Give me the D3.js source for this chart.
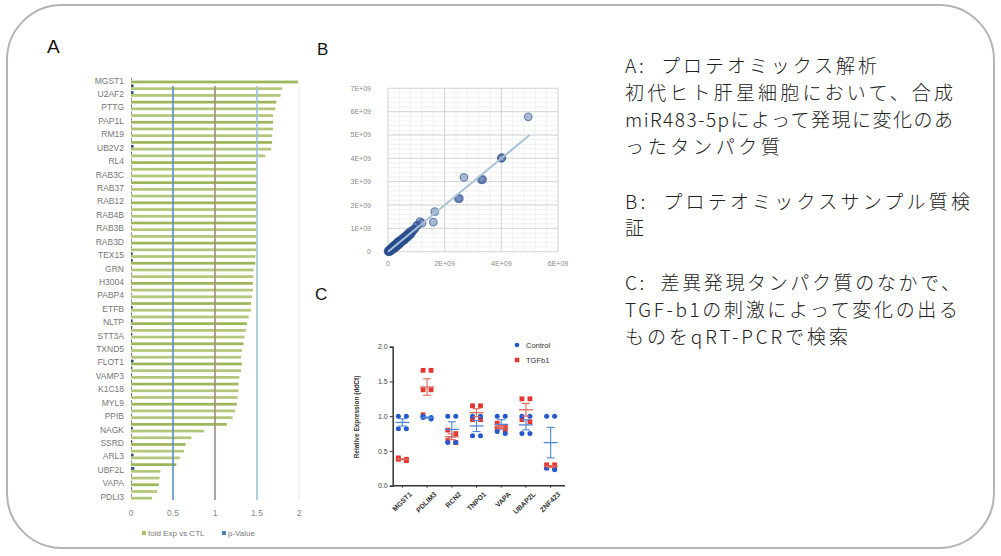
<!DOCTYPE html>
<html>
<head>
<meta charset="utf-8">
<script src="https://cdn.jsdelivr.net/npm/d3@7"></script>
<style>
  body { margin: 0; background: #fff; }
  svg { display: block; }
</style>
</head>
<body>
<svg id="chart" width="1001" height="556"></svg>
<script>
// ---------- A: proteomics bar chart ----------
const geneLabels = ['MGST1','U2AF2','PTTG','PAP1L','RM19','UB2V2','RL4','RAB3C','RAB37','RAB12',
  'RAB4B','RAB3B','RAB3D','TEX15','GRN','H3004','PABP4','ETFB','NLTP','STT3A','TXND5','FLOT1',
  'VAMP3','K1C18','MYL9','PPIB','NAGK','SSRD','ARL3','UBF2L','VAPA','PDLI3'];
const foldExp = [
  1.99,1.80,1.78,1.73,1.72,1.69,1.69,1.69,1.68,1.68,1.67,1.60,1.50,1.50,
  1.50,1.50,1.50,1.50,1.50,1.50,1.50,1.49,1.49,1.49,1.49,1.49,1.48,1.48,
  1.46,1.46,1.45,1.45,1.44,1.43,1.43,1.40,1.38,1.37,1.35,1.34,1.32,1.31,
  1.32,1.31,1.29,1.28,1.28,1.27,1.26,1.24,1.21,1.14,0.87,0.72,0.65,0.63,
  0.58,0.54,0.35,0.34,0.33,0.31,0.25];
const pValue = [
  0.004,0.03,0.03,0.006,0.01,0.006,0.008,0.008,0.008,0.008,0.03,0.01,0.006,0.006,
  0.006,0.006,0.006,0.006,0.006,0.006,0.006,0.006,0.006,0.006,0.006,0.006,0.02,0.02,
  0.006,0.006,0.006,0.006,0.006,0.008,0.02,0.01,0.02,0.015,0.015,0.01,0.01,0.01,
  0.03,0.015,0.01,0.01,0.008,0.01,0.008,0.008,0.008,0.008,0.02,0.008,0.015,0.008,
  0.03,0.006,0.04,0.008,0.008,0.01,0.008];
const foldTicks = [0, 0.5, 1, 1.5, 2];
const refLines = [0.5, 1, 1.5, 2];

// ---------- B: sample QC scatter (units of 1E+09) ----------
const scatterX = [0,0.02,0.03,0.05,0.06,0.08,0.1,0.1,0.12,0.14,
  0.15,0.17,0.18,0.2,0.2,0.22,0.25,0.25,0.28,0.3,
  0.3,0.32,0.35,0.36,0.38,0.4,0.42,0.45,0.46,0.5,
  0.52,0.55,0.58,0.6,0.62,0.65,0.68,0.7,0.72,0.75,
  0.78,0.8,0.85,0.9,0.95,1.0,1.05,1.13,1.2,1.6,
  1.65,2.48,2.52,2.68,3.3,3.34,4.0,4.02,4.95,
  0.04,0.07,0.09,0.11,0.13,0.16,0.19,0.21,0.23,0.27,
  0.29,0.31,0.33,0.37,0.39,0.43,0.48,0.53,0.57,0.63,
  0.67,0.73,0.77,0.82,0.88];
const scatterY = [0.02,0,0.06,0.03,0.1,0.05,0.12,0.06,0.1,0.18,
  0.1,0.22,0.14,0.25,0.16,0.2,0.3,0.2,0.24,0.36,
  0.26,0.3,0.42,0.3,0.36,0.46,0.35,0.5,0.4,0.56,
  0.45,0.6,0.5,0.66,0.55,0.7,0.62,0.78,0.66,0.8,
  0.72,0.88,0.86,0.95,0.98,1.1,1.15,1.29,1.22,1.27,
  1.72,2.27,2.28,3.18,3.08,3.1,4.0,4.03,5.78,
  0.0,0.04,0.02,0.14,0.08,0.12,0.2,0.12,0.28,0.18,
  0.32,0.24,0.38,0.28,0.44,0.38,0.44,0.5,0.56,0.6,
  0.72,0.7,0.74,0.78,0.9];
const scatterXTicks = [0, 2, 4, 6];
const scatterYTicks = [0, 1, 2, 3, 4, 5, 6, 7];
const trendLine = [0, 5];

// ---------- C: qRT-PCR ----------
const qGenes = ['MGST1','PDLIM3','RCN2','TNPO1','VAPA','UBAP2L','ZNF423'];
const controlVals = [
  [1.0,1.0,0.82,0.82],
  [1.0,0.98,0.98,0.96],
  [1.0,1.0,0.62,0.62],
  [1.0,1.0,0.72,0.72],
  [1.0,1.0,0.78,0.75],
  [1.0,1.0,0.75,0.75],
  [1.0,1.0,0.25,0.23]];
const tgfVals = [
  [0.4,0.38,0.38,0.36],
  [1.66,1.66,1.38,1.38,1.02],
  [0.8,0.75,0.65,0.62],
  [1.15,1.15,0.95,0.95],
  [0.9,0.85,0.82,0.8],
  [1.25,1.25,0.95,0.92],
  [0.3,0.3,0.26,0.25]];
const qTicks = [0, 0.5, 1.0, 1.5, 2.0];

// ---------- right-hand notes ----------
const noteLines = [
  ['A:  プロテオミックス解析', 73, 252],
  ['初代ヒト肝星細胞において、合成', 100, 328],
  ['miR483-5pによって発現に変化のあ', 127, 328],
  ['ったタンパク質', 154, 155],
  ['B:  プロテオミックスサンプル質検', 209, 345],
  ['証', 235, 20],
  ['C:  差異発現タンパク質のなかで、', 290, 335],
  ['TGF-b1の刺激によって変化の出る', 317, 333],
  ['ものをqRT-PCRで検索', 344, 223]];

const svg = d3.select('#chart');
const sans = "'Liberation Sans', Arial, sans-serif";

// outer frame
svg.append('rect')
  .attr('x', 7).attr('y', 5)
  .attr('width', 987).attr('height', 543)
  .attr('rx', 55)
  .attr('fill', '#fff')
  .attr('stroke', '#b4b4b4')
  .attr('stroke-width', 2);

// panel letters
[['A', 47, 53, 19], ['B', 317, 55, 17], ['C', 315, 300, 17]].forEach(d => {
  svg.append('text').attr('x', d[1]).attr('y', d[2])
    .attr('font-family', sans).attr('font-size', d[3]).attr('fill', '#111')
    .text(d[0]);
});

/************** A **************/
(function drawA() {
  let x = d3.scaleLinear().domain([0, 2]).range([131, 299]);
  let rows = d3.range(foldExp.length);
  let y = d3.scaleBand().domain(rows).range([77.6, 499.7]).paddingInner(0.12);
  let sub = d3.scaleBand().domain(['p', 'fold']).range([0, y.bandwidth()]).padding(0.05);

  let g = svg.append('g');

  // category labels on every other row
  g.selectAll('text.gene')
    .data(geneLabels)
    .enter().append('text')
    .attr('class', 'gene')
    .attr('x', 124)
    .attr('y', (d, i) => y(i * 2) + y.bandwidth() / 2 + 3)
    .attr('text-anchor', 'end')
    .attr('font-family', sans).attr('font-size', 8.5).attr('fill', '#777')
    .text(d => d);

  g.selectAll('rect.fold')
    .data(foldExp)
    .enter().append('rect')
    .attr('class', 'fold')
    .attr('x', x(0))
    .attr('y', (d, i) => y(i) + sub('fold'))
    .attr('width', d => x(d) - x(0))
    .attr('height', sub.bandwidth())
    .attr('fill', (d, i) => i % 3 === 0 ? '#9db659' : '#b3c77a');

  g.selectAll('rect.pval')
    .data(pValue)
    .enter().append('rect')
    .attr('class', 'pval')
    .attr('x', x(0))
    .attr('y', (d, i) => y(i) + sub('p'))
    .attr('width', d => Math.max(0.6, x(d) - x(0)))
    .attr('height', sub.bandwidth())
    .attr('fill', '#2f4f7a');

  const refColor = {0.5: '#5b8fc6', 1: '#a38a84', 1.5: '#9cc1e4', 2: '#e6e6e6'};
  g.selectAll('line.ref')
    .data(refLines)
    .enter().append('line')
    .attr('x1', d => x(d)).attr('x2', d => x(d))
    .attr('y1', 86).attr('y2', 500)
    .attr('stroke', d => refColor[d])
    .attr('stroke-width', d => d === 2 ? 1 : 1.6);

  g.selectAll('text.tick')
    .data(foldTicks)
    .enter().append('text')
    .attr('x', d => x(d)).attr('y', 516)
    .attr('text-anchor', 'middle')
    .attr('font-family', sans).attr('font-size', 8.5).attr('fill', '#888')
    .text(d => d);

  // legend
  let lg = g.append('g').attr('font-family', sans).attr('font-size', 8).attr('fill', '#777');
  lg.append('rect').attr('x', 142).attr('y', 531).attr('width', 4).attr('height', 4).attr('fill', '#a9c063');
  lg.append('text').attr('x', 148).attr('y', 536).text('fold Exp vs CTL');
  lg.append('rect').attr('x', 222).attr('y', 531).attr('width', 4).attr('height', 4).attr('fill', '#4f7fb8');
  lg.append('text').attr('x', 228).attr('y', 536).text('p-Value');
})();

/************** B **************/
(function drawB() {
  let x = d3.scaleLinear().domain([0, 6]).range([388, 558]);
  let y = d3.scaleLinear().domain([0, 7]).range([251.7, 88.3]);
  let g = svg.append('g');

  // minor grid
  g.selectAll('line.minx')
    .data(d3.range(0, 6.01, 0.4))
    .enter().append('line')
    .attr('x1', d => x(d)).attr('x2', d => x(d))
    .attr('y1', y(7)).attr('y2', y(0))
    .attr('stroke', '#eeeeee').attr('stroke-width', 0.8);
  g.selectAll('line.miny')
    .data(d3.range(0, 7.01, 0.2))
    .enter().append('line')
    .attr('y1', d => y(d)).attr('y2', d => y(d))
    .attr('x1', x(0)).attr('x2', x(6))
    .attr('stroke', '#eeeeee').attr('stroke-width', 0.8);
  // major grid
  g.selectAll('line.majx')
    .data(scatterXTicks)
    .enter().append('line')
    .attr('x1', d => x(d)).attr('x2', d => x(d))
    .attr('y1', y(7)).attr('y2', y(0))
    .attr('stroke', '#d6d6d6').attr('stroke-width', 1);
  g.selectAll('line.majy')
    .data(scatterYTicks)
    .enter().append('line')
    .attr('y1', d => y(d)).attr('y2', d => y(d))
    .attr('x1', x(0)).attr('x2', x(6))
    .attr('stroke', '#d6d6d6').attr('stroke-width', 1);

  g.selectAll('text.yt')
    .data(scatterYTicks)
    .enter().append('text')
    .attr('x', 371).attr('y', d => y(d) + 2.5)
    .attr('text-anchor', 'end')
    .attr('font-family', sans).attr('font-size', 7).attr('fill', '#888')
    .text(d => d === 0 ? '0' : d + 'E+09');
  g.selectAll('text.xt')
    .data(scatterXTicks)
    .enter().append('text')
    .attr('x', d => x(d)).attr('y', 266)
    .attr('text-anchor', 'middle')
    .attr('font-family', sans).attr('font-size', 7).attr('fill', '#888')
    .text(d => d === 0 ? '0' : d + 'E+09');

  let pts = scatterX.map((v, i) => [v, scatterY[i]]);
  g.selectAll('circle.pt')
    .data(pts)
    .enter().append('circle')
    .attr('cx', d => x(d[0])).attr('cy', d => y(d[1]))
    .attr('r', 3.8)
    .attr('fill', 'rgba(45,85,155,0.4)')
    .attr('stroke', 'rgba(40,75,135,0.6)')
    .attr('stroke-width', 1.2);

  g.append('line')
    .attr('x1', x(trendLine[0])).attr('y1', y(trendLine[0]))
    .attr('x2', x(trendLine[1])).attr('y2', y(trendLine[1]))
    .attr('stroke', '#a9c2d8').attr('stroke-width', 2);
})();

/************** C **************/
(function drawC() {
  let x = d3.scaleBand().domain(qGenes).range([390, 563]);
  let y = d3.scaleLinear().domain([0, 2]).range([485.7, 346.7]);
  let g = svg.append('g');
  const blue = '#2358cf', red = '#e3372f';

  // axes
  let yAxis = g.append('g').attr('transform', 'translate(392.7,0)')
    .call(d3.axisLeft(y).tickValues(qTicks).tickFormat(d3.format('.1f')).tickSize(3).tickPadding(2));
  yAxis.select('.domain').attr('stroke', '#333').attr('stroke-width', 1.5);
  yAxis.selectAll('.tick line').attr('stroke', '#333');
  yAxis.selectAll('.tick text').attr('font-family', sans).attr('font-size', 7).attr('fill', '#444');

  let xAxis = g.append('g').attr('transform', 'translate(0,485.7)')
    .call(d3.axisBottom(x).tickSize(2).tickSizeOuter(0));
  xAxis.select('.domain').attr('stroke', '#333').attr('stroke-width', 1.5)
    .attr('d', 'M392.7,0H565');
  xAxis.selectAll('.tick line').attr('stroke', '#333');
  xAxis.selectAll('.tick text')
    .attr('font-family', sans).attr('font-size', 7).attr('font-weight', 'bold').attr('fill', '#333')
    .attr('text-anchor', 'end')
    .attr('transform', 'translate(3,2) rotate(-45)');

  g.append('text')
    .attr('transform', 'translate(359,417) rotate(-90)')
    .attr('text-anchor', 'middle')
    .attr('font-family', sans).attr('font-size', 6.5).attr('font-weight', 'bold').attr('fill', '#333')
    .text('Relative Expression (ddCt)');

  const off = j => (j % 2 === 0 ? -4 : 4);

  // TGFb1 squares
  tgfVals.forEach((vals, gi) => {
    let cx = x(qGenes[gi]) + x.bandwidth() / 2;
    g.selectAll(null).data(vals).enter().append('rect')
      .attr('x', (d, j) => cx + off(j) - 2.4).attr('y', d => y(d) - 2.4)
      .attr('width', 4.8).attr('height', 4.8)
      .attr('fill', red);
  });
  // control circles
  controlVals.forEach((vals, gi) => {
    let cx = x(qGenes[gi]) + x.bandwidth() / 2;
    g.selectAll(null).data(vals).enter().append('circle')
      .attr('cx', (d, j) => cx + off(j)).attr('cy', d => y(d))
      .attr('r', 2.5)
      .attr('fill', blue);
  });

  // mean +- SEM
  function meanBar(vals, gi, color) {
    let cx = x(qGenes[gi]) + x.bandwidth() / 2;
    let m = d3.mean(vals);
    let sem = d3.deviation(vals) / Math.sqrt(vals.length);
    g.append('line').attr('x1', cx - 7).attr('x2', cx + 7).attr('y1', y(m)).attr('y2', y(m))
      .attr('stroke', color).attr('stroke-width', 1.3);
    g.append('line').attr('x1', cx).attr('x2', cx).attr('y1', y(m - sem)).attr('y2', y(m + sem))
      .attr('stroke', color).attr('stroke-width', 1.1);
    [m - sem, m + sem].forEach(v => {
      g.append('line').attr('x1', cx - 4).attr('x2', cx + 4).attr('y1', y(v)).attr('y2', y(v))
        .attr('stroke', color).attr('stroke-width', 1.1);
    });
  }
  controlVals.forEach((v, i) => meanBar(v, i, '#4f86d6'));
  tgfVals.forEach((v, i) => meanBar(v, i, '#e2665a'));

  // legend
  let lg = g.append('g').attr('font-family', sans).attr('font-size', 7.5).attr('fill', '#333');
  lg.append('circle').attr('cx', 517).attr('cy', 345).attr('r', 2.3).attr('fill', blue);
  lg.append('text').attr('x', 526).attr('y', 348).text('Control');
  lg.append('rect').attr('x', 514.8).attr('y', 357.8).attr('width', 4.5).attr('height', 4.5).attr('fill', red);
  lg.append('text').attr('x', 526).attr('y', 363).text('TGFb1');
})();

/************** notes **************/
svg.append('g')
  .selectAll('text')
  .data(noteLines)
  .enter().append('text')
  .attr('x', 625)
  .attr('y', d => d[1])
  .attr('textLength', d => d[2])
  .attr('lengthAdjust', 'spacing')
  .attr('font-family', "'Noto Sans CJK JP', sans-serif")
  .attr('font-size', 19)
  .attr('font-weight', 300)
  .attr('fill', '#222')
  .attr('xml:space', 'preserve')
  .style('white-space', 'pre')
  .text(d => d[0]);
</script>
</body>
</html>
